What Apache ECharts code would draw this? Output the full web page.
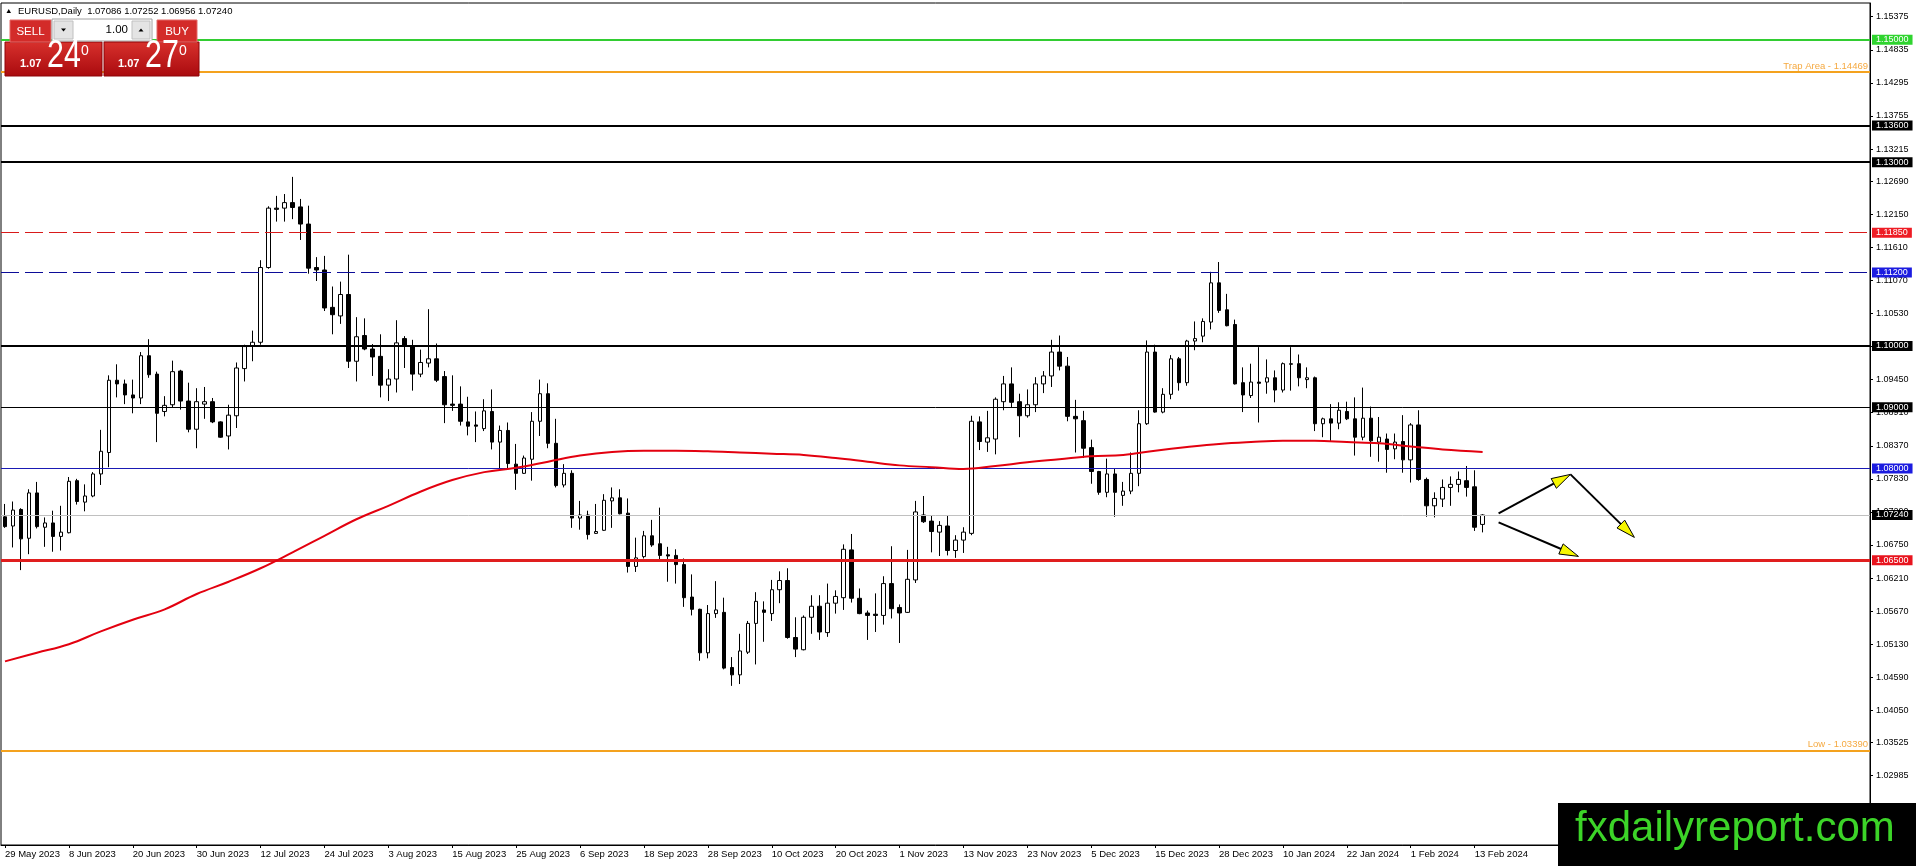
<!DOCTYPE html>
<html><head><meta charset="utf-8">
<script src="https://cdn.jsdelivr.net/npm/echarts@6/dist/echarts.min.js"></script>
<style>html,body{margin:0;padding:0;background:#fff;}#c{width:1916px;height:866px;}</style>
</head><body><div id="c"></div>
<script>
// ---------------- data ----------------
const symbolName = 'EURUSD,Daily';
const firstDate = '2023-05-29';
const holidays = ['2023-12-25', '2024-01-01'];
const totalSlots = 234;          // bars + empty right-hand space
const labelEvery = 8;

const opens = [
1.0721,1.0706,1.0733,1.0686,1.0760,1.0704,1.0711,1.0689,1.0695,1.0780,
1.0745,1.0755,1.0791,1.0826,1.0944,1.0938,1.0920,1.0915,1.0984,1.0954,
1.0893,1.0904,1.0959,1.0910,1.0864,1.0905,1.0909,1.0876,1.0853,1.0886,
1.0963,1.1000,1.1006,1.1128,1.1225,1.1225,1.1234,1.1227,1.1199,1.1128,
1.1124,1.1063,1.1049,1.1084,1.0975,1.1017,1.0995,1.0983,1.0936,1.0946,
1.1012,1.0999,1.0954,1.0972,1.0979,1.0950,1.0905,1.0905,1.0876,1.0871,
1.0865,1.0893,1.0843,1.0862,1.0807,1.0792,1.0815,1.0877,1.0922,1.0841,
1.0773,1.0792,1.0719,1.0724,1.0694,1.0699,1.0747,1.0752,1.0727,1.0640,
1.0656,1.0690,1.0677,1.0659,1.0658,1.0643,1.0590,1.0570,1.0499,1.0563,
1.0565,1.0475,1.0463,1.0500,1.0547,1.0569,1.0563,1.0602,1.0617,1.0524,
1.0504,1.0557,1.0575,1.0532,1.0580,1.0589,1.0667,1.0588,1.0564,1.0562,
1.0560,1.0612,1.0573,1.0565,1.0618,1.0724,1.0714,1.0696,1.0706,1.0666,
1.0683,1.0694,1.0876,1.0843,1.0848,1.0909,1.0938,1.0909,1.0886,1.0904,
1.0938,1.0951,1.0990,1.0967,1.0885,1.0878,1.0834,1.0795,1.0761,1.0791,
1.0756,1.0763,1.0792,1.0873,1.0990,1.0892,1.0921,1.0979,1.0940,1.1008,
1.1016,1.1039,1.1103,1.1059,1.1035,1.0940,1.0919,1.0941,1.0941,1.0948,
1.0928,1.0970,1.0971,1.0945,1.0948,1.0873,1.0881,1.0874,1.0893,1.0881,
1.0851,1.0882,1.0843,1.0848,1.0832,1.0844,1.0814,1.0871,1.0782,1.0739,
1.0750,1.0769,1.0774,1.0780,1.0770,1.07086];
const highs = [
1.0742,1.0746,1.0735,1.0766,1.0778,1.0720,1.0731,1.0739,1.0786,1.0783,
1.0774,1.0794,1.0863,1.0952,1.0970,1.0945,1.0945,1.0990,1.1011,1.0958,
1.0918,1.0976,1.0961,1.0940,1.0931,1.0933,1.0915,1.0877,1.0904,1.0973,
1.1002,1.1025,1.1140,1.1228,1.1245,1.1248,1.1276,1.1240,1.1229,1.1145,
1.1147,1.1097,1.1105,1.1149,1.1047,1.1045,1.1003,1.1019,1.0962,1.1042,
1.1016,1.1010,1.0994,1.1060,1.1004,1.0959,1.0952,1.0934,1.0917,1.0893,
1.0913,1.0929,1.0870,1.0875,1.0840,1.0821,1.0892,1.0945,1.0939,1.0881,
1.0807,1.0797,1.0747,1.0731,1.0742,1.0758,1.0769,1.0766,1.0751,1.0687,
1.0698,1.0716,1.0736,1.0672,1.0668,1.0653,1.0627,1.0571,1.0577,1.0616,
1.0589,1.0492,1.0530,1.0551,1.0598,1.0583,1.0618,1.0632,1.0637,1.0557,
1.0560,1.0593,1.0593,1.0612,1.0601,1.0676,1.0693,1.0604,1.0568,1.0596,
1.0624,1.0673,1.0578,1.0667,1.0747,1.0755,1.0723,1.0714,1.0724,1.0691,
1.0704,1.0886,1.0885,1.0894,1.0916,1.0951,1.0965,1.0922,1.0929,1.0949,
1.0959,1.1010,1.1017,1.0982,1.0912,1.0894,1.0847,1.0796,1.0816,1.0799,
1.0778,1.0826,1.0895,1.1009,1.1002,1.0931,1.0985,1.0982,1.1010,1.1040,
1.1045,1.1121,1.1137,1.1085,1.1043,1.0965,1.0971,1.0998,1.0978,1.0960,
1.0973,1.0998,1.0986,1.0965,1.0950,1.0883,1.0905,1.0908,1.0909,1.0916,
1.0932,1.0901,1.0884,1.0857,1.0857,1.0887,1.0874,1.0895,1.0785,1.0761,
1.0782,1.0787,1.0795,1.0804,1.0797,1.07252];
const lows = [
1.0703,1.0671,1.0634,1.0660,1.0702,1.0672,1.0664,1.0666,1.0694,1.0741,
1.0730,1.0753,1.0773,1.0802,1.0916,1.0905,1.0890,1.0905,1.0948,1.0843,
1.0885,1.0900,1.0896,1.0859,1.0833,1.0881,1.0874,1.0850,1.0831,1.0866,
1.0942,1.0975,1.1002,1.1126,1.1203,1.1203,1.1207,1.1173,1.1118,1.1106,
1.1057,1.1019,1.1036,1.0964,1.0942,1.0993,1.0951,1.0916,1.0910,1.0924,
1.0964,1.0927,1.0949,1.0965,1.0941,1.0874,1.0894,1.0870,1.0854,1.0843,
1.0861,1.0831,1.0799,1.0799,1.0765,1.0791,1.0780,1.0853,1.0833,1.0769,
1.0769,1.0703,1.0700,1.0684,1.0693,1.0698,1.0703,1.0725,1.0630,1.0631,
1.0653,1.0672,1.0651,1.0615,1.0612,1.0574,1.0560,1.0486,1.0490,1.0556,
1.0472,1.0445,1.0448,1.0497,1.0480,1.0517,1.0551,1.0580,1.0522,1.0492,
1.0503,1.0530,1.0520,1.0525,1.0563,1.0569,1.0581,1.0562,1.0520,1.0533,
1.0545,1.0555,1.0515,1.0564,1.0613,1.0711,1.0663,1.0657,1.0658,1.0654,
1.0662,1.0691,1.0830,1.0827,1.0823,1.0895,1.0900,1.0851,1.0883,1.0892,
1.0923,1.0933,1.0960,1.0877,1.0826,1.0817,1.0775,1.0757,1.0753,1.0721,
1.0739,1.0758,1.0771,1.0871,1.0891,1.0890,1.0913,1.0927,1.0935,1.0993,
1.1006,1.1027,1.1054,1.1032,1.0937,1.0892,1.0915,1.0875,1.0922,1.0908,
1.0924,1.0927,1.0934,1.0931,1.0861,1.0851,1.0845,1.0864,1.0879,1.0821,
1.0846,1.0819,1.0811,1.0793,1.0815,1.0793,1.0777,1.0780,1.0721,1.0720,
1.0737,1.0739,1.0761,1.0754,1.0698,1.06956];
const closes = [
1.0705,1.0732,1.0685,1.0760,1.0705,1.0711,1.0689,1.0696,1.0779,1.0746,
1.0755,1.0791,1.0828,1.0944,1.0938,1.0920,1.0915,1.0984,1.0953,1.0890,
1.0903,1.0958,1.0910,1.0864,1.0909,1.0909,1.0876,1.0851,1.0887,1.0964,
1.0999,1.1006,1.1128,1.1225,1.1223,1.1234,1.1226,1.1199,1.1127,1.1124,
1.1062,1.1051,1.1084,1.0975,1.1015,1.0995,1.0982,1.0936,1.0946,1.1005,
1.1000,1.0954,1.0973,1.0979,1.0944,1.0904,1.0903,1.0877,1.0869,1.0869,
1.0894,1.0843,1.0862,1.0808,1.0792,1.0817,1.0877,1.0922,1.0841,1.0772,
1.0792,1.0719,1.0724,1.0692,1.0697,1.0748,1.0752,1.0726,1.0640,1.0654,
1.0690,1.0675,1.0658,1.0657,1.0643,1.0589,1.0570,1.0499,1.0563,1.0569,
1.0474,1.0463,1.0502,1.0547,1.0583,1.0565,1.0602,1.0617,1.0524,1.0505,
1.0557,1.0575,1.0533,1.0580,1.0591,1.0668,1.0588,1.0563,1.0560,1.0560,
1.0612,1.0571,1.0564,1.0619,1.0729,1.0713,1.0697,1.0707,1.0666,1.0683,
1.0696,1.0877,1.0844,1.0850,1.0913,1.0938,1.0908,1.0886,1.0904,1.0938,
1.0951,1.0990,1.0967,1.0885,1.0881,1.0833,1.0795,1.0761,1.0791,1.0761,
1.0763,1.0792,1.0873,1.0990,1.0892,1.0921,1.0979,1.0940,1.1008,1.1012,
1.1040,1.1103,1.1058,1.1033,1.0938,1.0920,1.0941,1.0939,1.0948,1.0928,
1.0971,1.0971,1.0948,1.0948,1.0873,1.0881,1.0874,1.0895,1.0881,1.0851,
1.0882,1.0845,1.0851,1.0831,1.0843,1.0814,1.0871,1.0782,1.0739,1.0751,
1.0769,1.0774,1.0782,1.0769,1.0704,1.07240];

// 200-period moving average at these bar indices
const maBars = [0,4,8,12,16,20,24,28,32,36,40,44,48,52,56,60,64,68,72,76,80,84,88,92,96,100,104,108,112,116,120,124,128,132,136,140,144,148,152,156,160,164,168,172,176,180,185];
const maValues = [1.0485,1.0499,1.0513,1.0534,1.0553,1.0570,1.0595,1.0615,1.0637,1.0663,1.0690,1.0717,1.0739,1.0762,1.0781,1.0794,1.0801,1.0811,1.0821,1.0827,1.0829,1.0829,1.0828,1.0826,1.0824,1.0822,1.0817,1.0811,1.0805,1.0802,1.0799,1.0804,1.0810,1.0815,1.0820,1.0822,1.0829,1.0835,1.0840,1.0843,1.0845,1.0845,1.0843,1.0841,1.0836,1.0831,1.0827];

// horizontal levels
const levelPrices = [1.15000, 1.14469, 1.13600, 1.13000, 1.11850, 1.11200, 1.10000, 1.09000, 1.08000, 1.06500, 1.03390];
const levelNames  = ['', 'Trap Area', '', '', '', '', '', '', '', '', 'Low'];

// price-axis tick labels
const yTicks = [1.15375,1.14835,1.14295,1.13755,1.13215,1.12690,1.12150,1.11610,1.11070,1.10530,1.09990,1.09450,1.08910,1.08370,1.07830,1.07290,1.06750,1.06210,1.05670,1.05130,1.04590,1.04050,1.03525,1.02985,1.02445,1.01905];

// arrows: [fromBar, fromPrice, toBar, toPrice]
const arrows = [
  [187, 1.07266, 196, 1.07903],
  [196, 1.07903, 204, 1.06874],
  [187, 1.07119, 197, 1.06564]
];
const askPrice = 1.07270;

// ---------------- build ----------------
function tradingDays(start, n, skip) {
  const out = []; const d = new Date(start + 'T00:00:00Z');
  while (out.length < n) {
    const dow = d.getUTCDay(); const s = d.toISOString().slice(0, 10);
    if (dow !== 0 && dow !== 6 && skip.indexOf(s) < 0) out.push(s);
    d.setUTCDate(d.getUTCDate() + 1);
  }
  return out;
}
const dates = tradingDays(firstDate, totalSlots, holidays);
const nBars = closes.length;
const last = nBars - 1;
const MON = ['Jan','Feb','Mar','Apr','May','Jun','Jul','Aug','Sep','Oct','Nov','Dec'];
const fmtDate = v => { const p = v.split('-'); return (+p[2]) + ' ' + MON[+p[1] - 1] + ' ' + p[0]; };
const showTick = i => i % labelEvery === 0 && i < nBars;

const candleData = closes.map((c, i) => [opens[i], c, lows[i], highs[i]]);
const maData = maBars.map((b, i) => [b, maValues[i]]);

const FONT = '"Liberation Sans", Arial, sans-serif';
const levelStyles = [
  { color: '#32cd32', width: 2, type: 'solid', box: '#2fd42f' },
  { color: '#f4a21e', width: 2, type: 'solid', text: '#f5a940' },
  { color: '#000000', width: 2, type: 'solid', box: '#000000' },
  { color: '#000000', width: 2, type: 'solid', box: '#000000' },
  { color: '#d81a1a', width: 1, type: [18, 6], box: '#ee1c24' },
  { color: '#0c0c98', width: 1, type: [18, 6], box: '#1c1ce0' },
  { color: '#000000', width: 2, type: 'solid', box: '#000000' },
  { color: '#000000', width: 1, type: 'solid', box: '#000000' },
  { color: '#1a1ab4', width: 1, type: 'solid', box: '#1c1ce0' },
  { color: '#e01e1e', width: 3, type: 'solid', box: '#e8141e' },
  { color: '#f4a21e', width: 2, type: 'solid', text: '#f5a940' }
];
function boxLabel(v, bg) {
  return { show: true, position: 'end', distance: 2, formatter: v.toFixed(5), backgroundColor: bg,
           color: '#fff', padding: [1, 4, 0, 4], fontSize: 9, lineHeight: 9, fontFamily: FONT };
}
const levelData = levelPrices.map((p, i) => {
  const s = levelStyles[i];
  return {
    yAxis: p,
    lineStyle: { color: s.color, width: s.width, type: s.type },
    label: s.box ? boxLabel(p, s.box) : {
      show: true, position: 'insideEndTop', distance: [2, 1],
      formatter: levelNames[i] + ' - ' + p.toFixed(5), color: s.text, fontSize: 9.5, fontFamily: FONT
    }
  };
});
levelData.push({ yAxis: closes[last], lineStyle: { color: '#c0c0c0', width: 1, type: 'solid' }, label: boxLabel(closes[last], '#000') });

const headerText = symbolName + '  ' + [opens[last], highs[last], lows[last], closes[last]].map(v => v.toFixed(5)).join(' ');
const bidStr = closes[last].toFixed(5), askStr = askPrice.toFixed(5);

const redGrad = () => new echarts.graphic.LinearGradient(0, 0, 0, 1, [
  { offset: 0, color: '#d8312d' }, { offset: 1, color: '#a90a0e' }]);

function priceBlock(x0, s) {
  return [
    { type: 'text', x: x0, y: 64, z: 101, style: { text: s.slice(0, 4), font: 'bold 11px ' + FONT, fill: '#fff', verticalAlign: 'middle' } },
    { type: 'text', x: x0 + 27, y: 57, z: 101, scaleX: 0.8, style: { text: s.slice(4, 6), font: '38px ' + FONT, fill: '#fff', verticalAlign: 'middle' } },
    { type: 'text', x: x0 + 61, y: 51, z: 102, style: { text: s.slice(6, 7), font: '14px ' + FONT, fill: '#fff', verticalAlign: 'middle' } }
  ];
}

const graphics = [
  { type: 'polygon', z: 100, shape: { points: [[6.5, 13], [8.75, 9], [11, 13]] }, style: { fill: '#000' } },
  { type: 'text', x: 18, y: 11, z: 100, style: { text: headerText, font: '9.5px ' + FONT, fill: '#000', verticalAlign: 'middle' } },
  // SELL panel
  { type: 'rect', z: 100, shape: { x: 5, y: 42, width: 97, height: 34 }, style: { fill: redGrad(), stroke: '#8e0508', lineWidth: 1 } },
  { type: 'rect', z: 100, shape: { x: 10, y: 20, width: 41, height: 22 }, style: { fill: '#d32b29', stroke: '#e46a68', lineWidth: 1 } },
  { type: 'text', x: 30.5, y: 31.5, z: 101, style: { text: 'SELL', font: '11.5px ' + FONT, fill: '#fff', align: 'center', verticalAlign: 'middle' } },
  // lot box
  { type: 'rect', z: 100, shape: { x: 52, y: 19, width: 100, height: 22 }, style: { fill: '#fff', stroke: '#a0a0a0', lineWidth: 1 } },
  { type: 'rect', z: 100, shape: { x: 54, y: 21, width: 19, height: 18 }, style: { fill: '#e4e4e4', stroke: '#c0c0c0', lineWidth: 1 } },
  { type: 'polygon', z: 101, shape: { points: [[61, 28.5], [66, 28.5], [63.5, 31.5]] }, style: { fill: '#000' } },
  { type: 'rect', z: 100, shape: { x: 132, y: 21, width: 18, height: 18 }, style: { fill: '#e4e4e4', stroke: '#c0c0c0', lineWidth: 1 } },
  { type: 'polygon', z: 101, shape: { points: [[138.5, 31.5], [143.5, 31.5], [141, 28.5]] }, style: { fill: '#000' } },
  { type: 'text', x: 128, y: 30, z: 101, style: { text: '1.00', font: '11.5px ' + FONT, fill: '#000', align: 'right', verticalAlign: 'middle' } },
  // BUY panel
  { type: 'rect', z: 100, shape: { x: 104, y: 42, width: 95, height: 34 }, style: { fill: redGrad(), stroke: '#8e0508', lineWidth: 1 } },
  { type: 'rect', z: 100, shape: { x: 157, y: 20, width: 40, height: 22 }, style: { fill: '#d32b29', stroke: '#e46a68', lineWidth: 1 } },
  { type: 'text', x: 177, y: 31.5, z: 101, style: { text: 'BUY', font: '11.5px ' + FONT, fill: '#fff', align: 'center', verticalAlign: 'middle' } }
].concat(priceBlock(20, bidStr), priceBlock(118, askStr), [
  // watermark
  { type: 'rect', z: 100, shape: { x: 1558, y: 803, width: 358, height: 63 }, style: { fill: '#000' } },
  { type: 'text', x: 1575, y: 829, z: 101, style: { text: 'fxdailyreport.com', font: '42px ' + FONT, fill: '#3cd428', verticalAlign: 'middle' } }
]);

const chart = echarts.init(document.getElementById('c'), null, { renderer: 'canvas' });
chart.setOption({
  animation: false,
  backgroundColor: '#ffffff',
  textStyle: { fontFamily: FONT },
  grid: { left: 1, right: 46, top: 3, bottom: 21, show: true, borderColor: '#000', borderWidth: 1, backgroundColor: 'transparent' },
  xAxis: {
    type: 'category', data: dates, boundaryGap: true,
    axisLine: { show: true, lineStyle: { color: '#000', width: 1 } },
    axisTick: { show: true, alignWithLabel: true, interval: (i) => showTick(i), length: 3, lineStyle: { color: '#000' } },
    axisLabel: { interval: (i) => showTick(i), formatter: fmtDate, align: 'left', fontSize: 9.5, color: '#000', margin: 4, fontFamily: FONT },
    splitLine: { show: false }
  },
  yAxis: {
    type: 'value', position: 'right', min: 1.01852, max: 1.15599,
    axisLine: { show: true, lineStyle: { color: '#000', width: 1 } },
    axisTick: { show: true, length: 3, customValues: yTicks, lineStyle: { color: '#000' } },
    axisLabel: { customValues: yTicks, formatter: v => v.toFixed(5), fontSize: 9, color: '#000', margin: 6, fontFamily: FONT },
    splitLine: { show: false }
  },
  series: [
    {
      type: 'candlestick', name: 'EURUSD', data: candleData, barWidth: 4, z: 2,
      itemStyle: { color: '#ffffff', color0: '#000000', borderColor: '#000000', borderColor0: '#000000', borderWidth: 1 },
      markLine: { silent: true, precision: 5, symbol: ['none', 'none'], animation: false, z: 5, data: levelData }
    },
    {
      type: 'line', name: 'MA200', data: maData, smooth: 0.4, symbol: 'none', z: 6,
      lineStyle: { color: '#e3000f', width: 2 }
    },
    {
      type: 'custom', name: 'arrows', data: arrows, z: 7, silent: true,
      encode: { x: [0, 2], y: [1, 3] },
      renderItem: function (params, api) {
        const p0 = api.coord([api.value(0), api.value(1)]);
        const p1 = api.coord([api.value(2), api.value(3)]);
        const dx = p1[0] - p0[0], dy = p1[1] - p0[1];
        const L = Math.sqrt(dx * dx + dy * dy) || 1;
        const ux = dx / L, uy = dy / L;
        const hl = 19, hw = 5.5;
        const bx = p1[0] - ux * hl, by = p1[1] - uy * hl;
        return {
          type: 'group', children: [
            { type: 'line', shape: { x1: p0[0], y1: p0[1], x2: bx + ux * 4, y2: by + uy * 4 }, style: { stroke: '#000', lineWidth: 2 } },
            { type: 'polygon', shape: { points: [[p1[0], p1[1]], [bx - uy * hw, by + ux * hw], [bx + uy * hw, by - ux * hw]] },
              style: { fill: '#f7f700', stroke: '#000', lineWidth: 1 } }
          ]
        };
      }
    }
  ],
  graphic: { elements: graphics }
});
</script>
</body></html>
